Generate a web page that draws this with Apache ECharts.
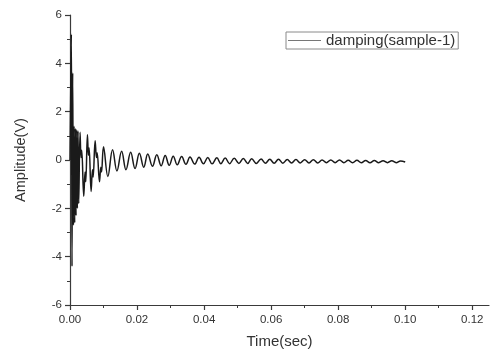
<!DOCTYPE html>
<html>
<head>
<meta charset="utf-8">
<script src="https://cdn.jsdelivr.net/npm/echarts@6/dist/echarts.min.js"></script>
<style>html,body{margin:0;padding:0;background:#fff;}#c{width:497px;height:351px;}</style>
</head>
<body>
<div id="c"></div>
<script>
const timeValues = [
  0, 0.0004, 0.0006, 0.0008, 0.0010, 0.0012, 0.0014, 0.0016, 0.0018, 0.0020, 0.0022, 0.0024, 0.0026,
  0.0030, 0.0033, 0.0035, 0.0041, 0.0045, 0.0047, 0.0052, 0.0055, 0.0057, 0.0063, 0.0067, 0.0069,
  0.0075, 0.0079, 0.0081, 0.0088, 0.0092, 0.0094, 0.0100, 0.0113, 0.0127, 0.0140,
  0.0154, 0.0167, 0.0181, 0.0194, 0.0207, 0.0220, 0.0232, 0.0246, 0.0259, 0.0272,
  0.0284, 0.0296, 0.0308, 0.0320, 0.0333, 0.0346, 0.0358, 0.0372, 0.0385, 0.0398,
  0.0411, 0.0424, 0.0438, 0.0450, 0.0463, 0.0476, 0.0490, 0.0504, 0.0517, 0.0530,
  0.0542, 0.0556, 0.0570, 0.0583, 0.0596, 0.0609, 0.0622, 0.0635, 0.0648, 0.0661,
  0.0674, 0.0687, 0.0700, 0.0713, 0.0726, 0.0739, 0.0752, 0.0765, 0.0778, 0.0791,
  0.0804, 0.0817, 0.0830, 0.0843, 0.0856, 0.0869, 0.0882, 0.0895, 0.0908, 0.0921,
  0.0934, 0.0947, 0.0960, 0.0973, 0.0986, 0.1000
];
// amplitude (V) at each of those times
const ampValues = [
  0, 5.2, -4.4, 3.6, -2.7, 1.4, -2.6, 1.3, -2.3, 1.25, -2.0, 1.2, -1.8,
  1.15, 0.1, 0.4, -1.5, -0.5, -0.9, 1.05, 0.2, 0.5, -1.3, -0.4, -0.7,
  0.8, 0.1, 0.3, -0.9, -0.3, -0.5, 0.55, -0.68, 0.42, -0.45,
  0.36, -0.4, 0.32, -0.35, 0.28, -0.3, 0.25, -0.26, 0.22, -0.24,
  0.19, -0.22, 0.16, -0.2, 0.14, -0.18, 0.12, -0.17, 0.11, -0.16,
  0.10, -0.16, 0.09, -0.15, 0.08, -0.15, 0.07, -0.14, 0.06, -0.14,
  0.05, -0.14, 0.04, -0.13, 0.03, -0.13, 0.03, -0.13, 0.02, -0.12,
  0.02, -0.12, 0.01, -0.12, 0.01, -0.12, 0.0, -0.11, 0.0, -0.11,
  0.0, -0.11, -0.01, -0.11, -0.01, -0.11, -0.02, -0.11, -0.02, -0.11,
  -0.03, -0.11, -0.03, -0.11, -0.04, -0.08
];
const xMajorTicks = [0, 0.02, 0.04, 0.06, 0.08, 0.10, 0.12];
const xMinorTicks = [0.01, 0.03, 0.05, 0.07, 0.09, 0.11];
const seriesName = 'damping(sample-1)';

const data = timeValues.map((t, i) => [t, ampValues[i]]);
const axisColor = '#3a3a3a';
const textColor = '#333';
const font = 'Liberation Sans, Arial, sans-serif';

const chart = echarts.init(document.getElementById('c'), null, {renderer: 'canvas'});
chart.setOption({
  animation: false,
  backgroundColor: '#fff',
  grid: {left: 70, right: 8, top: 15, bottom: 46, containLabel: false, outerBoundsMode: 'none'},
  legend: {
    show: true,
    data: [seriesName],
    left: 286, top: 32,
    padding: [0, 3, 0, 2],
    borderColor: '#8a8a8a', borderWidth: 1,
    icon: 'rect',
    itemWidth: 33, itemHeight: 1, itemGap: 4,
    itemStyle: {color: '#777', borderWidth: 0},
    textStyle: {fontSize: 15, color: textColor, fontFamily: font, lineHeight: 17}
  },
  xAxis: [{
    type: 'value', min: 0, max: 0.125,
    name: 'Time(sec)', nameLocation: 'middle', nameGap: 29,
    nameTextStyle: {fontSize: 15, color: textColor, fontFamily: font},
    axisLine: {show: true, onZero: false, lineStyle: {color: axisColor, width: 1.2}},
    axisTick: {show: true, inside: false, length: 5, customValues: xMajorTicks, lineStyle: {color: axisColor, width: 1.2}},
    axisLabel: {customValues: xMajorTicks, margin: 9, fontSize: 11.5, color: textColor, fontFamily: font,
      formatter: v => v.toFixed(2)},
    splitLine: {show: false}
  }, {
    type: 'value', min: 0, max: 0.125, position: 'bottom',
    axisLine: {show: false, onZero: false},
    axisTick: {show: true, inside: false, length: 3, customValues: xMinorTicks, lineStyle: {color: axisColor, width: 1}},
    axisLabel: {show: false},
    splitLine: {show: false}
  }],
  yAxis: {
    type: 'value', min: -6, max: 6, interval: 2,
    name: 'Amplitude(V)', nameLocation: 'middle', nameGap: 42, nameRotate: 90,
    nameTextStyle: {fontSize: 14.5, color: textColor, fontFamily: font},
    axisLine: {show: true, onZero: false, lineStyle: {color: axisColor, width: 1.2}},
    axisTick: {show: true, inside: false, length: 5, lineStyle: {color: axisColor, width: 1.2}},
    minorTick: {show: true, splitNumber: 2, length: 3, lineStyle: {color: axisColor, width: 1}},
    axisLabel: {margin: 8, fontSize: 11.5, color: textColor, fontFamily: font},
    splitLine: {show: false}
  },
  series: [{
    name: seriesName, type: 'line', xAxisIndex: 0, yAxisIndex: 0,
    data: data, showSymbol: false, symbol: 'none', smooth: 0.4,
    lineStyle: {color: '#1a1a1a', width: 1.5},
    itemStyle: {color: '#1a1a1a'}
  }]
});
</script>
</body>
</html>
